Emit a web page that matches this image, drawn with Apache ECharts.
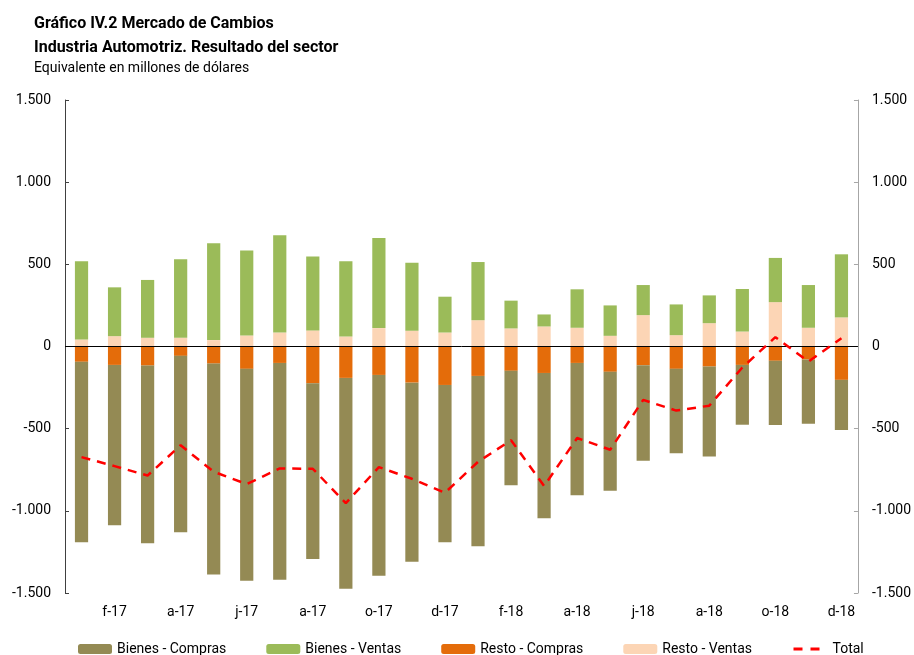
<!DOCTYPE html>
<html>
<head>
<meta charset="utf-8">
<script src="https://cdn.jsdelivr.net/npm/echarts@6/dist/echarts.min.js"></script>
<style>
  html, body { margin: 0; padding: 0; background: #fff; }
  #chart { width: 914px; height: 655px; }
</style>
</head>
<body>
<div id="chart"></div>
<script>
const months = [
  'e-17', 'f-17', 'm-17', 'a-17', 'm-17', 'j-17', 'j-17', 'a-17', 's-17', 'o-17', 'n-17', 'd-17',
  'e-18', 'f-18', 'm-18', 'a-18', 'm-18', 'j-18', 'j-18', 'a-18', 's-18', 'o-18', 'n-18', 'd-18'
]

const bienesCompras = [-1098, -976, -1081, -1073, -1283, -1289, -1319, -1069, -1283, -1222, -1090, -957,
  -1037, -696, -884, -805, -724, -581, -513, -547, -364, -391, -391, -305]
const bienesVentas = [476, 297, 352, 478, 589, 517, 592, 449, 458, 549, 414, 218,
  354, 169, 73, 234, 185, 183, 187, 169, 259, 269, 260, 384]
const restoCompras = [-93, -112, -116, -57, -104, -136, -100, -224, -191, -173, -220, -234,
  -179, -148, -161, -100, -154, -114, -136, -122, -112, -87, -79, -203]
const restoVentas = [43, 63, 53, 53, 39, 67, 85, 98, 61, 112, 96, 85,
  160, 110, 122, 114, 65, 191, 69, 142, 91, 270, 114, 177]
const total = [-673, -728, -785, -601, -762, -837, -742, -744, -953, -734, -805, -890,
  -702, -570, -849, -557, -628, -325, -390, -360, -128, 57, -92, 50]

const font = 'Roboto'

const fmt = (v) => {
  const s = Math.abs(v).toString().replace(/\B(?=(\d{3})+(?!\d))/g, '.')
  return (v < 0 ? '-' : '') + s
}

const chart = echarts.init(document.getElementById('chart'))

const yBase = {
  type: 'value',
  min: -1500,
  max: 1500,
  interval: 500,
  splitLine: { show: false },
  axisTick: { show: true, inside: true, length: 4 },
  axisLabel: { formatter: fmt, fontFamily: font, fontSize: 14, color: '#000', margin: 14 },
}

chart.setOption({
  animation: false,
  backgroundColor: '#fff',
  title: {
    left: 29,
    top: 7,
    text: 'Gráfico IV.2 Mercado de Cambios\nIndustria Automotriz. Resultado del sector',
    textStyle: { fontFamily: font, fontSize: 16, fontWeight: 'bold', color: '#000', lineHeight: 24 },
    subtext: 'Equivalente en millones de dólares',
    subtextStyle: { fontFamily: font, fontSize: 14, color: '#000' },
    itemGap: 1,
  },
  grid: { left: 65, right: 54, top: 100, bottom: 62 },
  legend: {
    left: 73,
    top: 637,
    itemWidth: 34,
    itemHeight: 10,
    itemGap: 40,
    textStyle: { fontFamily: font, fontSize: 14, color: '#000' },
    data: [
      'Bienes - Compras',
      'Bienes - Ventas',
      'Resto - Compras',
      'Resto - Ventas',
      {
        name: 'Total',
        itemStyle: { opacity: 0 },
        lineStyle: { color: '#FF0000', width: 3, type: [9, 8] },
      },
    ],
  },
  xAxis: {
    type: 'category',
    data: months,
    axisLine: { show: false },
    axisTick: { show: false },
    axisLabel: {
      interval: (i) => i % 2 === 1,
      fontFamily: font,
      fontSize: 14,
      color: '#000',
      margin: 12,
    },
    splitLine: {
      show: true,
      interval: (i) => i === 12,
      lineStyle: { color: '#A6A6A6', width: 1 },
    },
  },
  yAxis: [
    {
      ...yBase,
      position: 'left',
      axisLine: { show: true, lineStyle: { color: '#404040' } },
    },
    {
      ...yBase,
      position: 'right',
      axisLine: { show: true, lineStyle: { color: '#A6A6A6' } },
    },
  ],
  series: [
    {
      name: 'Resto - Ventas',
      type: 'bar',
      stack: 'a',
      barWidth: '40%',
      data: restoVentas,
      itemStyle: { color: '#FCD5B5' },
      markLine: {
        silent: true,
        symbol: 'none',
        label: { show: false },
        lineStyle: { color: '#000', width: 1, type: 'solid' },
        data: [{ yAxis: 0 }],
      },
    },
    {
      name: 'Resto - Compras',
      type: 'bar',
      stack: 'a',
      barWidth: '40%',
      data: restoCompras,
      itemStyle: { color: '#E46C0A' },
    },
    {
      name: 'Bienes - Compras',
      type: 'bar',
      stack: 'a',
      barWidth: '40%',
      data: bienesCompras,
      itemStyle: { color: '#948A54' },
    },
    {
      name: 'Bienes - Ventas',
      type: 'bar',
      stack: 'a',
      barWidth: '40%',
      data: bienesVentas,
      itemStyle: { color: '#9BBB59' },
    },
    {
      name: 'Total',
      type: 'line',
      data: total,
      symbol: 'none',
      z: 5,
      itemStyle: { color: '#FF0000' },
      lineStyle: { color: '#FF0000', width: 2.5, type: [9, 7] },
    },
  ],
})
</script>
</body>
</html>
